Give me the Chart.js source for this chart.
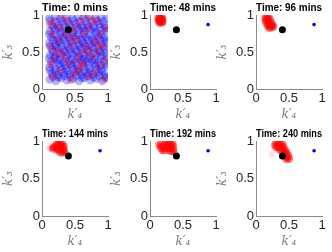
<!DOCTYPE html>
<html><head><meta charset="utf-8">
<script src="https://cdn.jsdelivr.net/npm/chart.js@4"></script>
<style>
html,body{margin:0;padding:0;background:#fff;width:332px;height:252px;overflow:hidden;position:relative}
canvas{position:absolute}
</style></head><body>
<script>
const times = [0, 48, 96, 144, 192, 240];
const tickValues = [0, 0.5, 1];
const tickLabels = ['0', '0.5', '1'];
const xLabel = 'k′₄';
const yLabel = 'k′₃';
const blackPoint = [[0.4, 0.8]];
const bluePoint = [[0.88, 0.87]];

const initBlue = [
[0.12,0.13],[0.21,0.11],[0.29,0.15],[0.38,0.12],[0.47,0.14],[0.56,0.11],[0.64,0.15],[0.73,0.12],[0.82,0.14],[0.91,0.11],[0.98,0.15],
[0.15,0.21],[0.24,0.19],[0.33,0.22],[0.42,0.20],[0.51,0.23],[0.60,0.19],[0.69,0.22],[0.77,0.20],[0.86,0.23],[0.95,0.19],
[0.11,0.29],[0.20,0.27],[0.28,0.30],[0.37,0.28],[0.46,0.31],[0.55,0.27],[0.63,0.30],[0.72,0.28],[0.81,0.31],[0.90,0.27],[0.98,0.30],
[0.14,0.37],[0.23,0.39],[0.32,0.36],[0.41,0.38],[0.50,0.36],[0.59,0.39],[0.67,0.37],[0.76,0.39],[0.85,0.36],[0.94,0.38],
[0.12,0.46],[0.20,0.44],[0.29,0.47],[0.38,0.45],[0.47,0.47],[0.56,0.44],[0.64,0.46],[0.73,0.44],[0.82,0.47],[0.91,0.45],[0.98,0.44],
[0.15,0.53],[0.24,0.55],[0.33,0.52],[0.42,0.54],[0.51,0.52],[0.60,0.55],[0.69,0.53],[0.78,0.55],[0.87,0.52],[0.95,0.54],
[0.11,0.62],[0.20,0.60],[0.28,0.63],[0.37,0.61],[0.46,0.63],[0.55,0.60],[0.63,0.62],[0.72,0.60],[0.81,0.63],[0.90,0.61],[0.98,0.63],
[0.14,0.70],[0.23,0.68],[0.32,0.71],[0.41,0.69],[0.50,0.71],[0.59,0.68],[0.67,0.70],[0.76,0.68],[0.85,0.71],[0.94,0.69],
[0.12,0.78],[0.20,0.80],[0.29,0.77],[0.38,0.79],[0.47,0.77],[0.56,0.80],[0.64,0.78],[0.73,0.80],[0.82,0.77],[0.91,0.79],[0.98,0.78],
[0.15,0.87],[0.24,0.85],[0.33,0.88],[0.42,0.86],[0.51,0.88],[0.60,0.85],[0.69,0.87],[0.78,0.85],[0.87,0.88],[0.95,0.86],
[0.11,0.96],[0.20,0.98],[0.28,0.95],[0.37,0.97],[0.46,0.95],[0.55,0.98],[0.63,0.96],[0.72,0.98],[0.81,0.95],[0.90,0.97],[0.98,0.96],
[0.16,0.17],[0.25,0.16],[0.34,0.18],[0.43,0.16],[0.52,0.18],[0.61,0.15],[0.69,0.18],[0.78,0.16],[0.87,0.18],[0.96,0.16],
[0.12,0.25],[0.20,0.23],[0.29,0.26],[0.38,0.24],[0.47,0.26],[0.56,0.23],[0.64,0.25],[0.73,0.23],[0.82,0.26],[0.91,0.24],
[0.17,0.33],[0.26,0.34],[0.35,0.32],[0.44,0.34],[0.53,0.32],[0.62,0.35],[0.71,0.33],[0.80,0.34],[0.89,0.32],[0.97,0.34],
[0.11,0.41],[0.19,0.42],[0.27,0.40],[0.36,0.42],[0.45,0.40],[0.54,0.42],[0.63,0.40],[0.71,0.41],[0.80,0.40],[0.89,0.42],
[0.17,0.50],[0.26,0.49],[0.35,0.50],[0.44,0.49],[0.53,0.50],[0.62,0.49],[0.70,0.50],[0.79,0.49],[0.88,0.50],[0.97,0.49],
[0.12,0.58],[0.21,0.57],[0.30,0.58],[0.39,0.57],[0.48,0.58],[0.57,0.57],[0.66,0.58],[0.75,0.57],[0.84,0.58],[0.93,0.57],
[0.17,0.66],[0.25,0.65],[0.34,0.67],[0.43,0.65],[0.52,0.67],[0.61,0.65],[0.70,0.66],[0.79,0.65],[0.88,0.67],[0.97,0.66],
[0.11,0.74],[0.19,0.73],[0.28,0.75],[0.37,0.73],[0.46,0.75],[0.55,0.73],[0.63,0.74],[0.72,0.73],[0.81,0.75],[0.90,0.73],
[0.17,0.83],[0.26,0.82],[0.35,0.83],[0.44,0.82],[0.53,0.83],[0.62,0.82],[0.70,0.83],[0.79,0.82],[0.88,0.83],[0.97,0.82],
[0.12,0.92],[0.21,0.91],[0.30,0.92],[0.39,0.91],[0.48,0.92],[0.57,0.91],[0.66,0.92],[0.75,0.91],[0.84,0.92],[0.93,0.91]
];
const initRed = [
[0.17,0.16],[0.44,0.12],[0.71,0.17],[0.93,0.13],[0.26,0.24],[0.55,0.25],[0.80,0.22],[0.13,0.33],[0.40,0.33],[0.62,0.34],
[0.88,0.32],[0.19,0.42],[0.52,0.40],[0.75,0.43],[0.97,0.40],[0.31,0.49],[0.58,0.48],[0.84,0.50],[0.13,0.57],[0.44,0.58],
[0.66,0.57],[0.92,0.58],[0.25,0.65],[0.53,0.66],[0.79,0.64],[0.16,0.74],[0.36,0.73],[0.63,0.75],[0.88,0.74],[0.27,0.83],
[0.49,0.82],[0.71,0.83],[0.96,0.82],[0.18,0.91],[0.39,0.92],[0.58,0.91],[0.83,0.92],[0.31,0.99],[0.67,0.99],[0.48,0.21],
[0.35,0.41],[0.70,0.51],[0.22,0.51],[0.59,0.30],[0.86,0.60],[0.46,0.70],[0.12,0.86],[0.75,0.93]
];
const red48 = [
[0.12,0.97],[0.14,0.98],[0.17,0.98],[0.19,0.97],[0.12,0.94],[0.15,0.95],[0.18,0.95],[0.20,0.94],[0.13,0.91],
[0.16,0.92],[0.19,0.91],[0.14,0.89],[0.17,0.89],[0.20,0.90],[0.15,0.96],[0.13,0.93],[0.18,0.93],[0.16,0.90]
];
const red96 = [
[0.14,0.98],[0.17,0.99],[0.20,0.98],[0.13,0.95],[0.16,0.95],[0.19,0.95],[0.22,0.94],[0.14,0.92],[0.17,0.92],
[0.20,0.91],[0.23,0.91],[0.15,0.89],[0.18,0.88],[0.21,0.88],[0.25,0.88],[0.17,0.85],[0.20,0.85],[0.23,0.85],
[0.26,0.86],[0.19,0.82],[0.22,0.82],[0.25,0.83],[0.27,0.84]
];
const red144 = [
[0.22,0.97],[0.25,0.98],[0.28,0.98],[0.31,0.97],[0.20,0.94],[0.23,0.94],[0.26,0.95],[0.29,0.95],[0.32,0.94],
[0.34,0.93],[0.21,0.91],[0.24,0.91],[0.27,0.92],[0.30,0.91],[0.33,0.90],[0.22,0.88],[0.25,0.88],[0.28,0.88],
[0.31,0.87],[0.34,0.87],[0.26,0.85],[0.29,0.84],[0.32,0.84],[0.35,0.85],[0.16,0.91],[0.17,0.89],[0.18,0.92]
];
const red192 = [
[0.13,0.95],[0.15,0.92],[0.16,0.96],[0.18,0.93],[0.17,0.89],[0.20,0.90],[0.21,0.95],[0.23,0.98],[0.26,0.98],
[0.29,0.98],[0.32,0.97],[0.35,0.97],[0.24,0.94],[0.27,0.94],[0.30,0.94],[0.33,0.94],[0.36,0.93],[0.24,0.90],
[0.27,0.90],[0.30,0.90],[0.33,0.90],[0.36,0.89],[0.28,0.87],[0.31,0.86],[0.34,0.86],[0.37,0.85],[0.22,0.87],[0.19,0.87]
];
const red240 = [
[0.29,0.97],[0.32,0.98],[0.35,0.98],[0.38,0.97],[0.41,0.96],[0.28,0.94],[0.31,0.94],[0.34,0.95],[0.37,0.94],
[0.40,0.93],[0.43,0.92],[0.30,0.91],[0.33,0.91],[0.36,0.91],[0.39,0.90],[0.42,0.89],[0.45,0.88],[0.35,0.88],
[0.38,0.87],[0.44,0.85],[0.47,0.85],[0.43,0.82],[0.46,0.82],[0.49,0.82],[0.44,0.79],[0.47,0.78],[0.50,0.79],
[0.45,0.76],[0.48,0.75],[0.51,0.76],[0.41,0.84]
];
const faint144 = [[0.10,0.90],[0.12,0.94],[0.13,0.89]];
const faint240 = [[0.24,0.82]];

const redClusters = [null, red48, red96, red144, red192, red240];
const faintClusters = [null, [], [], faint144, [], faint240];

const colLeft = [42, 150, 256];
const rowTop = [15, 141];
const plotW = 66;
const plotH = [74, 75];
const LEFT = 42, RIGHT = 18, TITLE_H = 15, XAX_H = 33;

Chart.defaults.font.family = "'Liberation Sans', Arial, sans-serif";
Chart.defaults.color = '#262626';

function pts(arr){ return arr.map(p => ({x: p[0], y: p[1]})); }

times.forEach((t, i) => {
  const col = i % 3, row = Math.floor(i / 3);
  const cw = LEFT + plotW + RIGHT;
  const ch = TITLE_H + plotH[row] + XAX_H;
  const cv = document.createElement('canvas');
  cv.width = cw; cv.height = ch;
  cv.style.width = cw + 'px'; cv.style.height = ch + 'px';
  cv.style.left = (colLeft[col] - LEFT) + 'px';
  cv.style.top = (rowTop[row] - TITLE_H) + 'px';
  document.body.appendChild(cv);

  let datasets;
  if (i === 0) {
    datasets = [
      {data: pts(blackPoint), backgroundColor: '#000', pointRadius: 3.5, borderWidth: 0, order: 0},
      {data: pts(initRed), backgroundColor: 'rgba(255,0,0,0.28)', pointRadius: 4, borderWidth: 0, order: 1},
      {data: pts(initBlue), backgroundColor: 'rgba(0,0,255,0.30)', pointRadius: 4.3, borderWidth: 0, order: 2}
    ];
  } else {
    datasets = [
      {data: pts(blackPoint), backgroundColor: '#000', pointRadius: 3.5, borderWidth: 0, order: 0},
      {data: pts(bluePoint), backgroundColor: '#0000ff', pointRadius: 1.8, borderWidth: 0, order: 1},
      {data: pts(redClusters[i]), backgroundColor: 'rgba(255,0,0,0.45)', pointRadius: 3.5, borderWidth: 0, order: 2},
      {data: pts(faintClusters[i]), backgroundColor: 'rgba(255,0,0,0.12)', pointRadius: 3, borderWidth: 0, order: 3}
    ];
  }

  new Chart(cv, {
    type: 'scatter',
    data: {datasets},
    options: {
      responsive: false, animation: false, events: [],
      layout: {padding: {left: 0, right: RIGHT, top: 0, bottom: 0}},
      plugins: {
        legend: {display: false}, tooltip: {enabled: false},
        title: {display: true, text: 'Time: ' + t + ' mins', fullSize: false, color: '#000',
          font: {size: 11, weight: 'bold', lineHeight: 1.2}, padding: {top: 0.9, bottom: 0.9}}
      },
      scales: {
        x: {
          type: 'linear', min: 0, max: 1,
          afterFit: s => { s.height = XAX_H; },
          afterBuildTicks: s => { s.ticks = tickValues.map(v => ({value: v})); },
          ticks: {callback: v => tickLabels[tickValues.indexOf(v)], font: {size: 13}, padding: 2, maxRotation: 0, autoSkip: false, color: '#262626'},
          grid: {display: false, drawTicks: false},
          border: {display: true, color: '#8a8a8a', width: 1},
          title: {display: true, text: xLabel, color: '#7a7a7a', padding: {top: 0, bottom: 0},
            font: {family: "'DejaVu Serif', 'Liberation Serif', serif", style: 'italic', size: 12}}
        },
        y: {
          type: 'linear', min: 0, max: 1,
          afterFit: s => { s.width = LEFT; },
          afterBuildTicks: s => { s.ticks = tickValues.map(v => ({value: v})); },
          ticks: {callback: v => tickLabels[tickValues.indexOf(v)], font: {size: 13}, padding: 2, autoSkip: false, color: '#262626'},
          grid: {display: false, drawTicks: false},
          border: {display: true, color: '#8a8a8a', width: 1},
          title: {display: true, text: yLabel, color: '#7a7a7a', padding: {top: 2, bottom: 0},
            font: {family: "'DejaVu Serif', 'Liberation Serif', serif", style: 'italic', size: 12}}
        }
      }
    }
  });
});
</script>
</body></html>
